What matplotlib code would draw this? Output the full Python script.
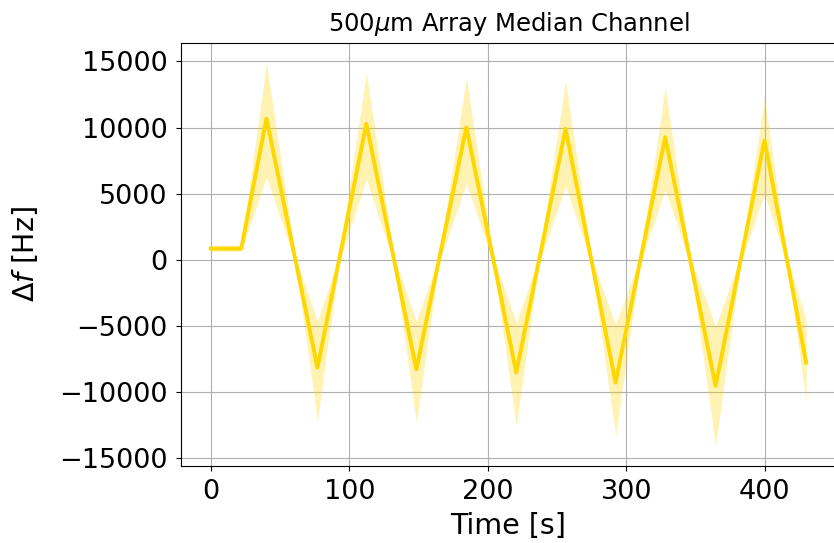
import numpy as np
import matplotlib
matplotlib.use('Agg')
import matplotlib.pyplot as plt

# median channel response, read at the turning points and zero crossings
time = [0, 22, 40.2, 61.1, 77, 92.6, 112.3, 132.3, 148.4, 164.7, 184.5, 204,
        220.5, 237, 256.1, 274.7, 292.2, 310.1, 328, 346, 364.4, 382.5, 399.7,
        415.9, 429.8]
median = [850, 850, 10680, 0, -8150, 0, 10280, 0, -8270, 0, 10020, 0,
          -8520, 0, 9900, 0, -9270, 0, 9270, 0, -9520, 0, 9020, 0, -7770]
upper = [1100, 1100, 14900, 250, -4640, 250, 14160, 250, -4640, 250, 13780, 250,
         -4760, 250, 13530, 250, -4890, 250, 13030, 250, -5010, 250, 12280, 250, -4500]
lower = [650, 650, 6260, -250, -12160, -250, 6100, -250, -12280, -250, 5800, -250,
         -12530, -250, 5600, -250, -13280, -250, 5300, -250, -14040, -250, 5000, -250, -10780]

yticks = [-15000, -10000, -5000, 0, 5000, 10000, 15000]
xticks = [0, 100, 200, 300, 400]

fig = plt.figure(figsize=(8.34, 5.43), dpi=100)
ax = fig.add_axes([0.217, 0.1418, 0.7857, 0.779])

ax.fill_between(time, lower, upper, color='gold', alpha=0.3, linewidth=0)
ax.plot(time, median, color='gold', linewidth=2.8)

ax.set_xlim(-21.5, 451.5)
ax.set_ylim(-15580, 16390)
ax.set_xticks(xticks)
ax.set_yticks(yticks)
ax.tick_params(labelsize=19.5, pad=6)
ax.grid(True)
ax.set_axisbelow(True)

ax.set_title(r'500$\mu$m Array Median Channel', fontsize=17.5, pad=9)
ax.set_xlabel('Time [s]', fontsize=20.5, labelpad=5)
ax.set_ylabel(r'$\Delta f$ [Hz]', fontsize=20.5, labelpad=14)

fig.savefig('out.png', dpi=100)
